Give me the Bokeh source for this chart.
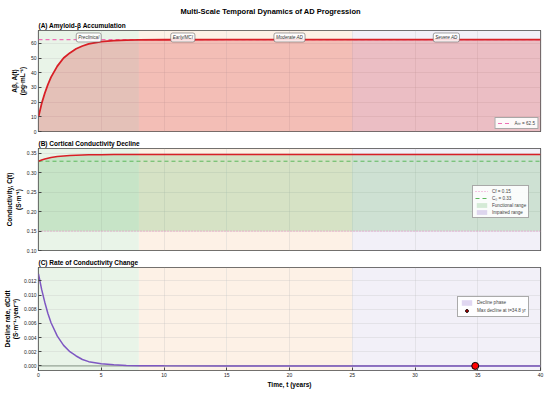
from bokeh.plotting import figure
from bokeh.layouts import column
from bokeh.models import (BoxAnnotation, Legend, LegendItem, Title, FixedTicker,
                          PrintfTickFormatter, Range1d)
from bokeh.core.properties import value
from bokeh.embed import file_html
from bokeh.resources import INLINE

# ---------------- data ----------------
t_years = [0, 0.25, 0.5, 0.75, 1, 1.5, 2, 2.5, 3, 3.5, 4, 5, 6, 7, 8, 10, 15, 20, 25, 30, 35, 40]
amyloid = [10, 19, 26, 32, 37, 44.5, 50, 53.5, 56.3, 58.2, 59.6, 61.2, 61.9, 62.2, 62.35, 62.45,
           62.5, 62.5, 62.5, 62.5, 62.5, 62.5]
conductivity = [0.330, 0.3330, 0.3356, 0.3377, 0.3394, 0.3420, 0.3437, 0.3449, 0.3457, 0.3463,
                0.3466, 0.3470, 0.3472, 0.3473, 0.3473, 0.3473, 0.3473, 0.3473, 0.3473, 0.3473,
                0.3473, 0.3473]
decline_rate = [0.0130, 0.0108, 0.0090, 0.0074, 0.0061, 0.0042, 0.0029, 0.0020, 0.0014, 0.0009,
                0.0006, 0.0003, 0.00015, 0.00007, 0.00003, 0.00001, 0, 0, 0, 0, 0, 0]

A_inf = 62.5
C_f = 0.15
C_0 = 0.33
t_max_decline = 34.8
rate_at_max = 0.0

stage_names = ["Preclinical", "Early/MCI", "Moderate AD", "Severe AD"]
stage_start = [0, 8, 15, 25]
stage_end = [8, 15, 25, 40]
stage_colors = ["#e9f4e8", "#fdf1e6", "#fdf1e6", "#f2f0f8"]

x_ticks = [0, 5, 10, 15, 20, 25, 30, 35, 40]
a_ticks = [0, 10, 20, 30, 40, 50, 60]
c_ticks = [0.10, 0.15, 0.20, 0.25, 0.30, 0.35]
r_ticks = [0.000, 0.002, 0.004, 0.006, 0.008, 0.010, 0.012]

FONT = "Liberation Sans"


def base(frame_h, y_range, yticks, fmt, ylabel, top, bottom, show_x):
    p = figure(frame_width=502, frame_height=frame_h, x_range=Range1d(0, 40), y_range=y_range,
               output_backend="svg", toolbar_location=None,
               min_border_left=38, min_border_right=8, min_border_top=top,
               min_border_bottom=bottom)
    p.background_fill_color = "white"
    p.border_fill_color = "white"
    p.outline_line_color = "#444444"
    p.outline_line_width = 1.2
    for ax in (p.xaxis[0], p.yaxis[0]):
        ax.axis_line_color = None
        ax.major_tick_in = 3
        ax.major_tick_out = 0
        ax.minor_tick_line_color = None
        ax.major_tick_line_color = "#444444"
        ax.major_label_text_font = FONT
        ax.major_label_text_font_size = "5px"
        ax.major_label_text_color = "#222222"
        ax.major_label_standoff = 2
        ax.axis_label_text_font = FONT
        ax.axis_label_text_font_style = "bold"
        ax.axis_label_text_font_size = "6.5px"
        ax.axis_label_text_color = "black"
        ax.axis_label_standoff = 2
    p.xaxis.ticker = FixedTicker(ticks=x_ticks)
    p.yaxis.ticker = FixedTicker(ticks=yticks)
    p.yaxis.formatter = PrintfTickFormatter(format=fmt)
    p.yaxis.axis_label = ylabel
    if not show_x:
        p.xaxis.visible = False
    for g in (p.xgrid[0], p.ygrid[0]):
        g.grid_line_color = "#bbbbbb"
        g.grid_line_alpha = 0.45
        g.grid_line_width = 0.6
    p.ygrid.ticker = FixedTicker(ticks=yticks)
    p.xgrid.ticker = FixedTicker(ticks=x_ticks)
    for s, e, c in zip(stage_start, stage_end, stage_colors):
        p.add_layout(BoxAnnotation(left=s, right=e, fill_color=c, fill_alpha=1.0,
                                   line_color=None, level="image"))
    return p


def panel_title(p, text, use_main=True):
    t = p.title if use_main else Title()
    t.text = text
    t.text_font = FONT
    t.text_font_size = "6.5px"
    t.text_font_style = "bold"
    t.text_color = "black"
    t.standoff = 3
    t.align = "left"
    if not use_main:
        p.add_layout(t, "above")


def style_legend(lg, h=6):
    lg.label_text_font = FONT
    lg.label_text_font_size = "4.6px"
    lg.label_height = h
    lg.glyph_height = h
    lg.glyph_width = 13
    lg.label_standoff = 4
    lg.spacing = 1
    lg.padding = 2
    lg.margin = 2
    lg.border_line_color = "#555555"
    lg.border_line_width = 0.8
    lg.background_fill_color = "white"
    lg.background_fill_alpha = 0.9


n = len(t_years)

# ---------------- Panel A ----------------
pA = base(101, Range1d(0, A_inf * 1.1), a_ticks, "%d", "Aβ, A(t)\n(pg·mL⁻¹)", 30, 5, False)
pA.title.text = "Multi-Scale Temporal Dynamics of AD Progression"
pA.title.text_font = FONT
pA.title.text_font_size = "7.5px"
pA.title.text_font_style = "bold"
pA.title.text_color = "black"
pA.title.align = "left"
pA.title.offset = 142
pA.title.standoff = 6
panel_title(pA, "(A) Amyloid-β Accumulation", use_main=False)

pA.varea(x=t_years, y1=[0] * n, y2=amyloid, fill_color="#d62728", fill_alpha=0.25)
r_inf = pA.line(x=t_years, y=[A_inf] * n, line_color="#ee6fb5", line_width=1.2,
                line_dash="4 3")
pA.line(x=t_years, y=amyloid, line_color="#d81f26", line_width=1.8)
stage_mid = [(s + e) / 2 for s, e in zip(stage_start, stage_end)]
pA.text(x=stage_mid, y=[64] * len(stage_mid), text=stage_names, text_font=value(FONT),
        text_font_style="italic", text_font_size="4.6px", text_align="center",
        text_baseline="middle", text_color="#333333",
        background_fill_color="white", background_fill_alpha=0.85,
        border_line_color="#666666", border_line_width=0.6, padding=2, border_radius=2)
lgA = Legend(items=[LegendItem(label="A∞ = 62.5", renderers=[r_inf])], location="bottom_right")
style_legend(lgA)
pA.add_layout(lgA, "center")

# ---------------- Panel B ----------------
pB = base(102, Range1d(0.10, 0.3628), c_ticks, "%.2f", "Conductivity, C(t)\n(S·m⁻¹)", 9, 5, False)
panel_title(pB, "(B) Cortical Conductivity Decline")
r_func = pB.varea(x=t_years, y1=[C_f] * n, y2=conductivity, fill_color="#4caf50",
                  fill_alpha=0.22)
r_imp = pB.varea(x=t_years, y1=[C_f] * n, y2=[C_f] * n, fill_color="#9c7fd0", fill_alpha=0.3)
r_cf = pB.line(x=t_years, y=[C_f] * n, line_color="#ee7fc0", line_width=0.9, line_dash="1 2")
r_c0 = pB.line(x=t_years, y=[C_0] * n, line_color="#5cb85c", line_width=1.0, line_dash="4 3")
pB.line(x=t_years, y=conductivity, line_color="#d81f26", line_width=1.5)
lgB = Legend(items=[LegendItem(label="Cf = 0.15", renderers=[r_cf]),
                    LegendItem(label="C₀ = 0.33", renderers=[r_c0]),
                    LegendItem(label="Functional range", renderers=[r_func]),
                    LegendItem(label="Impaired range", renderers=[r_imp])],
             location=(434, 32))
style_legend(lgB)
pB.add_layout(lgB, "center")

# ---------------- Panel C ----------------
pC = base(103, Range1d(-0.00065, 0.0139), r_ticks, "%.3f",
          "Decline rate, dC/dt\n(S·m⁻¹·year⁻¹)", 9, 17, True)
panel_title(pC, "(C) Rate of Conductivity Change")
pC.xaxis.axis_label = "Time, t (years)"
pC.xaxis.axis_label_standoff = 1
r_dec = pC.varea(x=t_years, y1=[rate_at_max] * n, y2=[rate_at_max] * n, fill_color="#9c7fd0",
                 fill_alpha=0.3)
pC.line(x=t_years, y=[rate_at_max] * n, line_color="#8a9a8a", line_width=1.6, line_alpha=0.6)
pC.line(x=t_years, y=decline_rate, line_color="#7e57c2", line_width=1.5)
r_max = pC.scatter(x=[t_max_decline], y=[rate_at_max], size=7, fill_color="#ff0000",
                   line_color="black", line_width=1.0)
lgC = Legend(items=[LegendItem(label="Decline phase", renderers=[r_dec]),
                    LegendItem(label="Max decline at t=34.8 yr", renderers=[r_max])],
             location=(419, 53))
style_legend(lgC, h=7)
pC.add_layout(lgC, "center")

layout = column(pA, pB, pC, spacing=0)
open("out.html", "w").write(file_html(layout, INLINE))
